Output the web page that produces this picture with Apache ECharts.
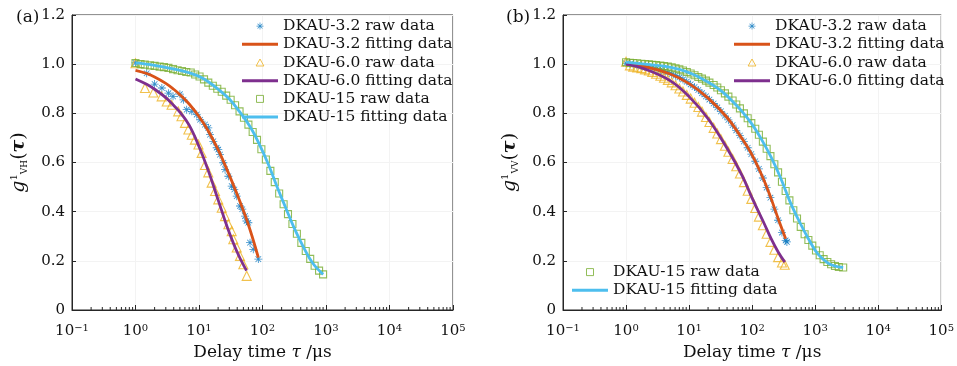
<!DOCTYPE html>
<html>
<head>
<meta charset="utf-8">
<script src="https://cdn.jsdelivr.net/npm/echarts@6/dist/echarts.min.js"></script>
<style>
  html, body { margin: 0; padding: 0; background: #fff; }
  #chart { width: 957px; height: 366px; }
</style>
</head>
<body>
<div id="chart"></div>
<script>
// ---- panel (a): VH ----
const a32RawX = [1, 1.5, 2.0, 2.6, 3.3, 3.9, 5.0, 5.7, 6.4, 7.7, 9.2, 10.4, 12.4, 14, 14.9, 16.8, 19, 20.1, 21.4, 24.1, 25.7, 29, 32.7, 36, 39.3, 44.2, 48, 53, 56, 59.8, 63.6, 71.6, 86];
const a32RawY = [1.005, 0.963, 0.919, 0.903, 0.882, 0.869, 0.878, 0.855, 0.815, 0.808, 0.795, 0.774, 0.754, 0.741, 0.713, 0.686, 0.66, 0.653, 0.632, 0.599, 0.572, 0.544, 0.504, 0.49, 0.463, 0.423, 0.41, 0.382, 0.362, 0.355, 0.274, 0.247, 0.207];
const a32FitX = [1, 1.5, 2, 3, 4, 5, 7, 10, 14, 20, 28, 40, 55, 70, 86];
const a32FitY = [0.975, 0.962, 0.948, 0.922, 0.898, 0.876, 0.838, 0.787, 0.728, 0.652, 0.567, 0.47, 0.375, 0.292, 0.213];

const a60RawX = [1, 1.41, 1.91, 2.58, 3.1, 3.7, 4.7, 5.3, 6.0, 6.8, 7.7, 8.6, 9.8, 11, 12.4, 14, 15.8, 17.9, 20.1, 22.8, 25.7, 29, 32.7, 34.7, 39.3, 44.2, 49.9, 56.4];
const a60RawY = [1.004, 0.903, 0.885, 0.869, 0.848, 0.835, 0.808, 0.788, 0.761, 0.734, 0.713, 0.693, 0.673, 0.639, 0.59, 0.56, 0.518, 0.484, 0.45, 0.416, 0.382, 0.349, 0.321, 0.288, 0.254, 0.22, 0.186, 0.139];
const a60FitX = [1, 1.5, 2, 3, 4, 5, 7, 10, 14, 20, 28, 40, 56];
const a60FitY = [0.94, 0.918, 0.898, 0.864, 0.832, 0.805, 0.752, 0.665, 0.567, 0.448, 0.336, 0.235, 0.16];

const a15RawX = [1, 1.2, 1.4, 1.7, 2, 2.4, 2.8, 3.3, 3.9, 4.6, 5.4, 6.3, 7.4, 8.7, 10.2, 12, 14, 16.5, 19.4, 22.8, 26.8, 31.5, 37, 43.5, 51, 60, 70, 82, 96, 113, 133, 156, 183, 215, 252, 296, 348, 409, 480, 564, 662, 778, 900];
const a15RawY = [1.005, 1.0, 0.998, 0.995, 0.993, 0.99, 0.988, 0.985, 0.98, 0.975, 0.972, 0.968, 0.966, 0.958, 0.95, 0.938, 0.925, 0.912, 0.9, 0.888, 0.872, 0.855, 0.833, 0.808, 0.782, 0.754, 0.724, 0.692, 0.654, 0.612, 0.566, 0.52, 0.474, 0.43, 0.39, 0.35, 0.31, 0.273, 0.24, 0.208, 0.18, 0.16, 0.145];
const a15FitX = [1, 2, 4, 7, 12, 20, 30, 45, 65, 90, 125, 170, 230, 320, 450, 620, 900];
const a15FitY = [1.005, 0.995, 0.98, 0.965, 0.94, 0.898, 0.858, 0.802, 0.742, 0.672, 0.59, 0.5, 0.418, 0.33, 0.252, 0.19, 0.145];

// ---- panel (b): VV ----
const b32RawX = [1, 1.15, 1.3, 1.5, 1.75, 2, 2.3, 2.6, 3, 3.5, 4, 4.6, 5.3, 6.1, 7, 8, 9.2, 10.6, 12.2, 14, 16, 18.5, 21, 24.5, 28, 32, 37, 42, 49, 56, 64, 74, 85, 97, 112, 128, 148, 170, 195, 225, 258, 297, 340, 356];
const b32RawY = [1.003, 1.0, 0.998, 0.996, 0.993, 0.99, 0.988, 0.985, 0.981, 0.976, 0.971, 0.966, 0.96, 0.953, 0.946, 0.938, 0.929, 0.918, 0.907, 0.895, 0.882, 0.869, 0.856, 0.84, 0.824, 0.808, 0.79, 0.773, 0.752, 0.731, 0.71, 0.686, 0.66, 0.634, 0.605, 0.574, 0.537, 0.498, 0.457, 0.41, 0.365, 0.315, 0.283, 0.277];
const b32FitX = [1, 2, 5, 10, 20, 40, 70, 100, 150, 200, 260, 340];
const b32FitY = [1.0, 0.99, 0.96, 0.921, 0.862, 0.783, 0.695, 0.63, 0.535, 0.453, 0.37, 0.29];

const b60RawX = [1, 1.15, 1.3, 1.5, 1.75, 2, 2.3, 2.6, 3, 3.5, 4, 4.6, 5.3, 6.1, 7, 8, 9.2, 10.6, 12.2, 14, 16, 18.5, 21, 24.5, 28, 32, 37, 42, 49, 56, 64, 74, 85, 97, 112, 128, 148, 170, 195, 225, 258, 297, 329];
const b60RawY = [1.01, 0.995, 0.99, 0.987, 0.984, 0.979, 0.974, 0.968, 0.961, 0.953, 0.945, 0.936, 0.926, 0.914, 0.901, 0.889, 0.875, 0.86, 0.843, 0.826, 0.807, 0.785, 0.765, 0.741, 0.718, 0.695, 0.668, 0.644, 0.614, 0.585, 0.555, 0.52, 0.485, 0.452, 0.415, 0.38, 0.345, 0.31, 0.277, 0.245, 0.215, 0.193, 0.184];
const b60FitX = [1, 2, 5, 10, 20, 40, 70, 100, 150, 200, 260, 330];
const b60FitY = [1.0, 0.98, 0.933, 0.868, 0.778, 0.658, 0.545, 0.455, 0.36, 0.29, 0.235, 0.195];

const b15RawX = [1, 1.15, 1.3, 1.5, 1.75, 2, 2.3, 2.6, 3, 3.5, 4, 4.6, 5.3, 6.1, 7, 8, 9.2, 10.6, 12.2, 14, 16, 18.5, 21, 24.5, 28, 32, 37, 42, 49, 56, 64, 74, 85, 97, 112, 128, 148, 170, 195, 225, 258, 297, 340, 390, 450, 515, 590, 680, 780, 900, 1030, 1180, 1360, 1560, 1790, 2060, 2370, 2780];
const b15RawY = [1.008, 1.006, 1.005, 1.004, 1.002, 1.0, 0.999, 0.997, 0.996, 0.994, 0.992, 0.99, 0.987, 0.983, 0.979, 0.974, 0.968, 0.962, 0.955, 0.948, 0.941, 0.933, 0.925, 0.915, 0.905, 0.894, 0.881, 0.868, 0.852, 0.836, 0.82, 0.8, 0.78, 0.76, 0.737, 0.713, 0.685, 0.656, 0.626, 0.593, 0.56, 0.522, 0.484, 0.446, 0.406, 0.372, 0.338, 0.308, 0.285, 0.262, 0.242, 0.223, 0.207, 0.195, 0.186, 0.179, 0.175, 0.173];
const b15FitX = [1, 2, 4, 7, 11, 16, 24, 35, 50, 70, 100, 140, 200, 280, 400, 560, 780, 1100, 1600, 2200, 2780];
const b15FitY = [1.008, 1.0, 0.992, 0.979, 0.961, 0.941, 0.915, 0.884, 0.846, 0.806, 0.755, 0.695, 0.622, 0.54, 0.44, 0.36, 0.29, 0.228, 0.191, 0.177, 0.173];

// axis ticks
const xMajorTicks = [0.1, 1, 10, 100, 1000, 10000, 100000];
const xMinorTicks = [];
xMajorTicks.slice(0, -1).forEach(function (d) {
    for (let k = 2; k <= 9; k++) xMinorTicks.push(d * k);
});

const names = ['DKAU-3.2 raw data', 'DKAU-3.2 fitting data', 'DKAU-6.0 raw data',
    'DKAU-6.0 fitting data', 'DKAU-15 raw data', 'DKAU-15 fitting data'];

const FONT = 'DejaVu Serif';
const AXIS = '#262626';
const C = {
    blue: '#0072BD', red: '#D95319', yellow: '#EDB120',
    purple: '#7E2F8E', green: '#77AC30', cyan: '#4DBEEE'
};
const ASTERISK = 'path://M-0.5,-5h1v10h-1z M-5,-0.5h10v1h-10z ' +
    'M-3.85,-3.15L-3.15,-3.85L3.85,3.15L3.15,3.85z M3.15,-3.85L3.85,-3.15L-3.15,3.85L-3.85,3.15z';
const TRIANGLE = 'path://M0,-5L5,4L-5,4z';
const SQUARE = 'path://M-4,-4h8v8h-8z';
const LINE_ICON = 'path://M0,0h36v3h-36z';

function zip(xs, ys) {
    return xs.map(function (x, i) { return [x, ys[i]]; });
}

let chart = echarts.init(document.getElementById('chart'));

function xAxisFor(idx) {
    return {
        type: 'log', gridIndex: idx, logBase: 10,
        min: 0.1, max: 100000,
        name: '{n|Delay time }{t|τ}{n| /μs}',
        nameLocation: 'middle', nameGap: 34,
        nameTextStyle: {
            rich: {
                n: {fontFamily: FONT, fontSize: 17, color: '#111'},
                t: {fontFamily: FONT, fontSize: 17, fontStyle: 'italic', color: '#111'}
            }
        },
        axisLine: {lineStyle: {color: AXIS, width: 1}},
        axisTick: {inside: true, length: 5, lineStyle: {color: AXIS}},
        splitLine: {show: true, lineStyle: {color: '#f3f3f3', width: 1}},
        axisLabel: {
            margin: 13,
            formatter: function (v) {
                let e = Math.round(Math.log10(v));
                return '{b|10}{s|' + (e < 0 ? '−' + (-e) : e) + '}';
            },
            rich: {
                b: {fontFamily: FONT, fontSize: 15, color: '#111'},
                s: {fontFamily: FONT, fontSize: 10, color: '#111', verticalAlign: 'top', padding: [0, 0, 7, 0]}
            }
        }
    };
}

function yAxisFor(idx, sub) {
    return {
        type: 'value', gridIndex: idx, min: 0, max: 1.2, interval: 0.2,
        name: '{g|g}{p|1}{s|' + sub + '}{n|(}{t|τ}{n|)}',
        nameLocation: 'middle', nameGap: 43, nameRotate: 90,
        nameTextStyle: {
            rich: {
                g: {fontFamily: FONT, fontSize: 19, fontStyle: 'italic', color: '#111'},
                p: {fontFamily: FONT, fontSize: 10, color: '#111', verticalAlign: 'top', padding: [0, 0, 10, 0]},
                s: {fontFamily: FONT, fontSize: 9, color: '#111', verticalAlign: 'bottom', padding: [6, 0, 0, 0]},
                n: {fontFamily: FONT, fontSize: 19, color: '#111'},
                t: {fontFamily: FONT, fontSize: 19, fontStyle: 'italic', fontWeight: 'bold', color: '#111'}
            }
        },
        axisLine: {show: true, lineStyle: {color: AXIS, width: 1}},
        axisTick: {show: true, inside: true, length: 4, lineStyle: {color: AXIS}},
        splitLine: {show: true, lineStyle: {color: '#f3f3f3', width: 1}},
        axisLabel: {
            margin: 7, fontFamily: FONT, fontSize: 15, color: '#111',
            formatter: function (v) { return v === 0 ? '0' : v.toFixed(1); }
        }
    };
}

function panelSeries(idx, r32x, r32y, f32x, f32y, r60x, r60y, f60x, f60y, r15x, r15y, f15x, f15y) {
    const base = {xAxisIndex: idx, yAxisIndex: idx, animation: false};
    const raw = function (name, xs, ys, symbol, size, style) {
        return Object.assign({
            type: 'scatter', name: name, data: zip(xs, ys), z: 2,
            symbol: symbol, symbolSize: size, itemStyle: style
        }, base);
    };
    const fit = function (name, xs, ys, color) {
        return Object.assign({
            type: 'line', name: name, data: zip(xs, ys), z: 3, smooth: 0.4,
            symbol: 'none', showSymbol: false,
            lineStyle: {color: color, width: 2.8}, itemStyle: {color: color}
        }, base);
    };
    return [
        raw(names[0], r32x, r32y, ASTERISK, 8, {color: C.blue}),
        fit(names[1], f32x, f32y, C.red),
        raw(names[2], r60x, r60y, TRIANGLE, 9, {color: 'rgba(0,0,0,0)', borderColor: C.yellow, borderWidth: 1.1}),
        fit(names[3], f60x, f60y, C.purple),
        raw(names[4], r15x, r15y, SQUARE, 7, {color: 'rgba(0,0,0,0)', borderColor: C.green, borderWidth: 1.1}),
        fit(names[5], f15x, f15y, C.cyan),
        Object.assign({
            type: 'custom', z: 5, silent: true,
            data: xMinorTicks.map(function (v) { return [v, 0]; }),
            renderItem: function (params, api) {
                const p = api.coord([api.value(0), 0]);
                return {
                    type: 'line',
                    shape: {x1: p[0], y1: p[1], x2: p[0], y2: p[1] - 3},
                    style: {stroke: AXIS, lineWidth: 1}
                };
            }
        }, base)
    ];
}

const legendItems = [
    {name: names[0], icon: ASTERISK, itemStyle: {color: C.blue}},
    {name: names[1], icon: LINE_ICON, itemStyle: {color: C.red}},
    {name: names[2], icon: TRIANGLE, itemStyle: {color: 'rgba(0,0,0,0)', borderColor: C.yellow, borderWidth: 1}},
    {name: names[3], icon: LINE_ICON, itemStyle: {color: C.purple}},
    {name: names[4], icon: SQUARE, itemStyle: {color: 'rgba(0,0,0,0)', borderColor: C.green, borderWidth: 1}},
    {name: names[5], icon: LINE_ICON, itemStyle: {color: C.cyan}}
];

function legendFor(data, left, top) {
    return {
        data: data, orient: 'vertical', left: left, top: top, padding: 0,
        itemWidth: 36, itemHeight: 7, itemGap: 0, selectedMode: false,
        symbolKeepAspect: true,
        textStyle: {fontFamily: FONT, fontSize: 15.5, color: '#111', lineHeight: 18.2}
    };
}

let option = {
    backgroundColor: '#fff',
    animation: false,
    title: [
        {text: '(a)', left: 11, top: 4, textStyle: {fontFamily: FONT, fontSize: 17, fontWeight: 'normal', color: '#111'}},
        {text: '(b)', left: 501, top: 4, textStyle: {fontFamily: FONT, fontSize: 17, fontWeight: 'normal', color: '#111'}}
    ],
    grid: [
        {left: 72, top: 15, width: 381, height: 296, show: true, borderColor: AXIS, borderWidth: 1, backgroundColor: 'transparent'},
        {left: 563, top: 15, width: 381, height: 296, show: true, borderColor: AXIS, borderWidth: 1, backgroundColor: 'transparent'}
    ],
    legend: [
        legendFor(legendItems, 242, 17),
        legendFor(legendItems.slice(0, 4), 734, 17),
        legendFor(legendItems.slice(4), 572, 263)
    ],
    xAxis: [xAxisFor(0), xAxisFor(1)],
    yAxis: [yAxisFor(0, 'VH'), yAxisFor(1, 'VV')],
    series: panelSeries(0, a32RawX, a32RawY, a32FitX, a32FitY, a60RawX, a60RawY, a60FitX, a60FitY, a15RawX, a15RawY, a15FitX, a15FitY)
        .concat(panelSeries(1, b32RawX, b32RawY, b32FitX, b32FitY, b60RawX, b60RawY, b60FitX, b60FitY, b15RawX, b15RawY, b15FitX, b15FitY))
};
chart.setOption(option);
</script>
</body>
</html>
